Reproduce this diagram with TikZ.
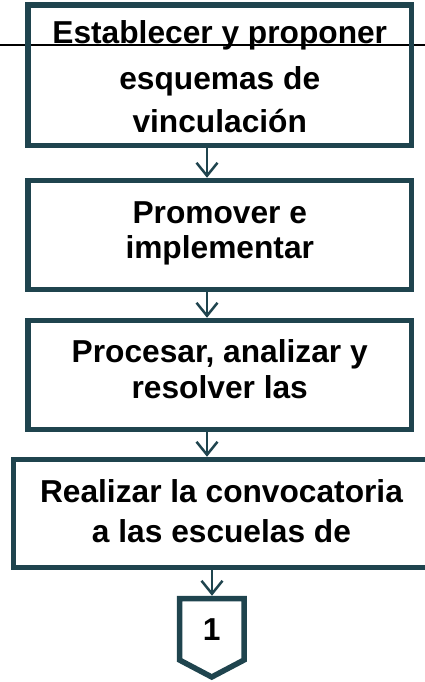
\documentclass[tikz,border=0pt]{standalone}
\usepackage{fontspec}
\setmainfont{Liberation Sans}
\usetikzlibrary{arrows.meta}
\definecolor{teal}{RGB}{31,68,78}
\tikzset{
  box/.style={draw=teal, line width=5.5pt, rectangle, inner sep=0pt},
  lbl/.style={anchor=base, inner sep=0pt, font=\fontsize{31.7}{38}\selectfont\bfseries, text=black},
  arr/.style={draw=teal, line width=2.5pt, -{Straight Barb[length=13pt,width=21pt,line width=2.5pt]}},
  rule/.style={draw=black, line width=1.5pt}
}
\begin{document}
\begin{tikzpicture}[x=1pt,y=-1pt]
\useasboundingbox (0,0) rectangle (425,682);
% horizontal line
\coordinate (la) at (0,45);
\coordinate (lb) at (425,45);
\draw[rule] (la) -- (lb);
% boxes
\node[box, minimum width=383.5pt, minimum height=140.5pt] (b1) at (219.75,75.25) {};
\node[box, minimum width=383.5pt, minimum height=109pt] (b2) at (219.75,235) {};
\node[box, minimum width=383.5pt, minimum height=109pt] (b3) at (219.75,375) {};
\node[box, minimum width=416pt, minimum height=108pt] (b4) at (221.5,513.5) {};
% pentagon
\coordinate (p1) at (179.5,598.5);
\coordinate (p2) at (244,598.5);
\coordinate (p3) at (244,660);
\coordinate (p4) at (211.75,677);
\coordinate (p5) at (179.5,660);
\draw[box, line join=miter] (p1) -- (p2) -- (p3) -- (p4) -- (p5) -- cycle;
\coordinate (ptop) at (212,595.75);
% texts
\node[lbl] (t1a) at (219.75,44) {Establecer y proponer};
\node[lbl] (t1b) at (219.75,90) {esquemas de};
\node[lbl] (t1c) at (219.75,132) {vinculación};
\node[lbl] (t2a) at (219.75,223) {Promover e};
\node[lbl] (t2b) at (219.75,258) {implementar};
\node[lbl] (t3a) at (219.75,362.5) {Procesar, analizar y};
\node[lbl] (t3b) at (219.75,398.5) {resolver las};
\node[lbl] (t4a) at (221.5,502) {Realizar la convocatoria};
\node[lbl] (t4b) at (221.5,542) {a las escuelas de};
\node[lbl] (one) at (211.75,640) {1};
% arrows
\coordinate (ax) at (207,0);
\coordinate (bx) at (212,0);
\draw[arr] (b1.south -| ax) -- (b2.north -| ax);
\draw[arr] (b2.south -| ax) -- (b3.north -| ax);
\draw[arr] (b3.south -| ax) -- (b4.north -| ax);
\draw[arr] (b4.south -| bx) -- (ptop);
\end{tikzpicture}
\end{document}
